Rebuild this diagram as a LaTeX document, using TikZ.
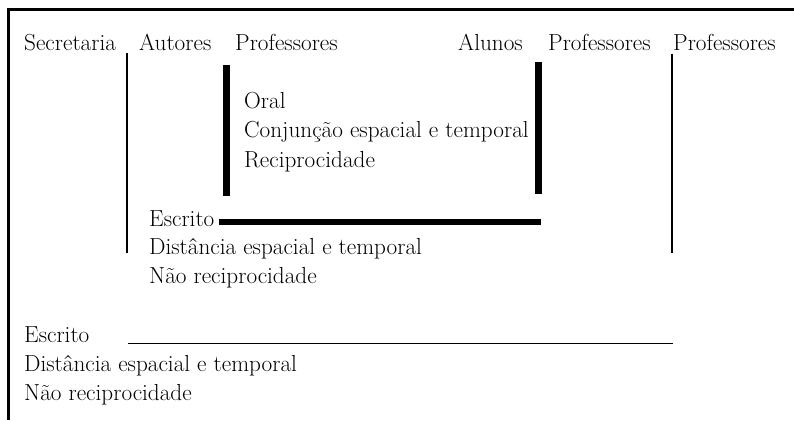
\documentclass[tikz,border=0pt]{standalone}
\begin{document}
\begin{tikzpicture}[x=1pt,y=-1pt,
  txt/.style={inner sep=0pt,anchor=base west,font=\fontsize{23.2}{27}\selectfont},
  thin/.style={line width=1.2pt},
  thick bar/.style={line width=6.5pt},
  frame/.style={line width=2.5pt}]
\useasboundingbox (0,0) rectangle (794,420);
% frame (top and left only)
\coordinate (fbl) at (8.5,420);
\coordinate (ftl) at (8.5,9.5);
\coordinate (ftr) at (794,9.5);
\draw[frame] (fbl) -- (ftl) -- (ftr);
% header row
\node[txt] (sec) at (24,50) {Secretaria};
\node[txt] (aut) at (139,50) {Autores};
\node[txt] (prof1) at (235,50) {Professores};
\node[txt,anchor=base east] (alu) at (523,50) {Alunos};
\node[txt] (prof2) at (548,50) {Professores};
\node[txt] (prof3) at (673,50) {Professores};
% thin verticals
\coordinate (v1t) at (127,53);
\coordinate (v1b) at (127,253);
\coordinate (v2t) at (672,54);
\coordinate (v2b) at (672,253);
\draw[thin] (v1t) -- (v1b);
\draw[thin] (v2t) -- (v2b);
% thick verticals
\coordinate (b1t) at (226.7,64.5);
\coordinate (b1b) at (226.7,196);
\coordinate (b2t) at (538.5,62);
\coordinate (b2b) at (538.5,193.5);
\draw[thick bar] (b1t) -- (b1b);
\draw[thick bar] (b2t) -- (b2b);
% inner text
\node[txt] (oral) at (244,108) {Oral};
\node[txt] (conj) at (244,137.5) {Conjunção espacial e temporal};
\node[txt] (rec) at (244,167) {Reciprocidade};
% middle block
\node[txt] (esc1) at (149,226) {Escrito};
\coordinate (h1e) at (541,222);
\draw[thick bar] (esc1.east |- h1e) ++(4,0) coordinate (h1s) -- (h1e);
\node[txt] (dist1) at (149,254.5) {Distância espacial e temporal};
\node[txt] (nao1) at (149,283) {Não reciprocidade};
% bottom block
\node[txt] (esc2) at (24,342.5) {Escrito};
\coordinate (h2s) at (128,343.3);
\coordinate (h2e) at (673,343.3);
\draw[thin] (h2s) -- (h2e);
\node[txt] (dist2) at (24,371) {Distância espacial e temporal};
\node[txt] (nao2) at (24,400) {Não reciprocidade};
\end{tikzpicture}
\end{document}
